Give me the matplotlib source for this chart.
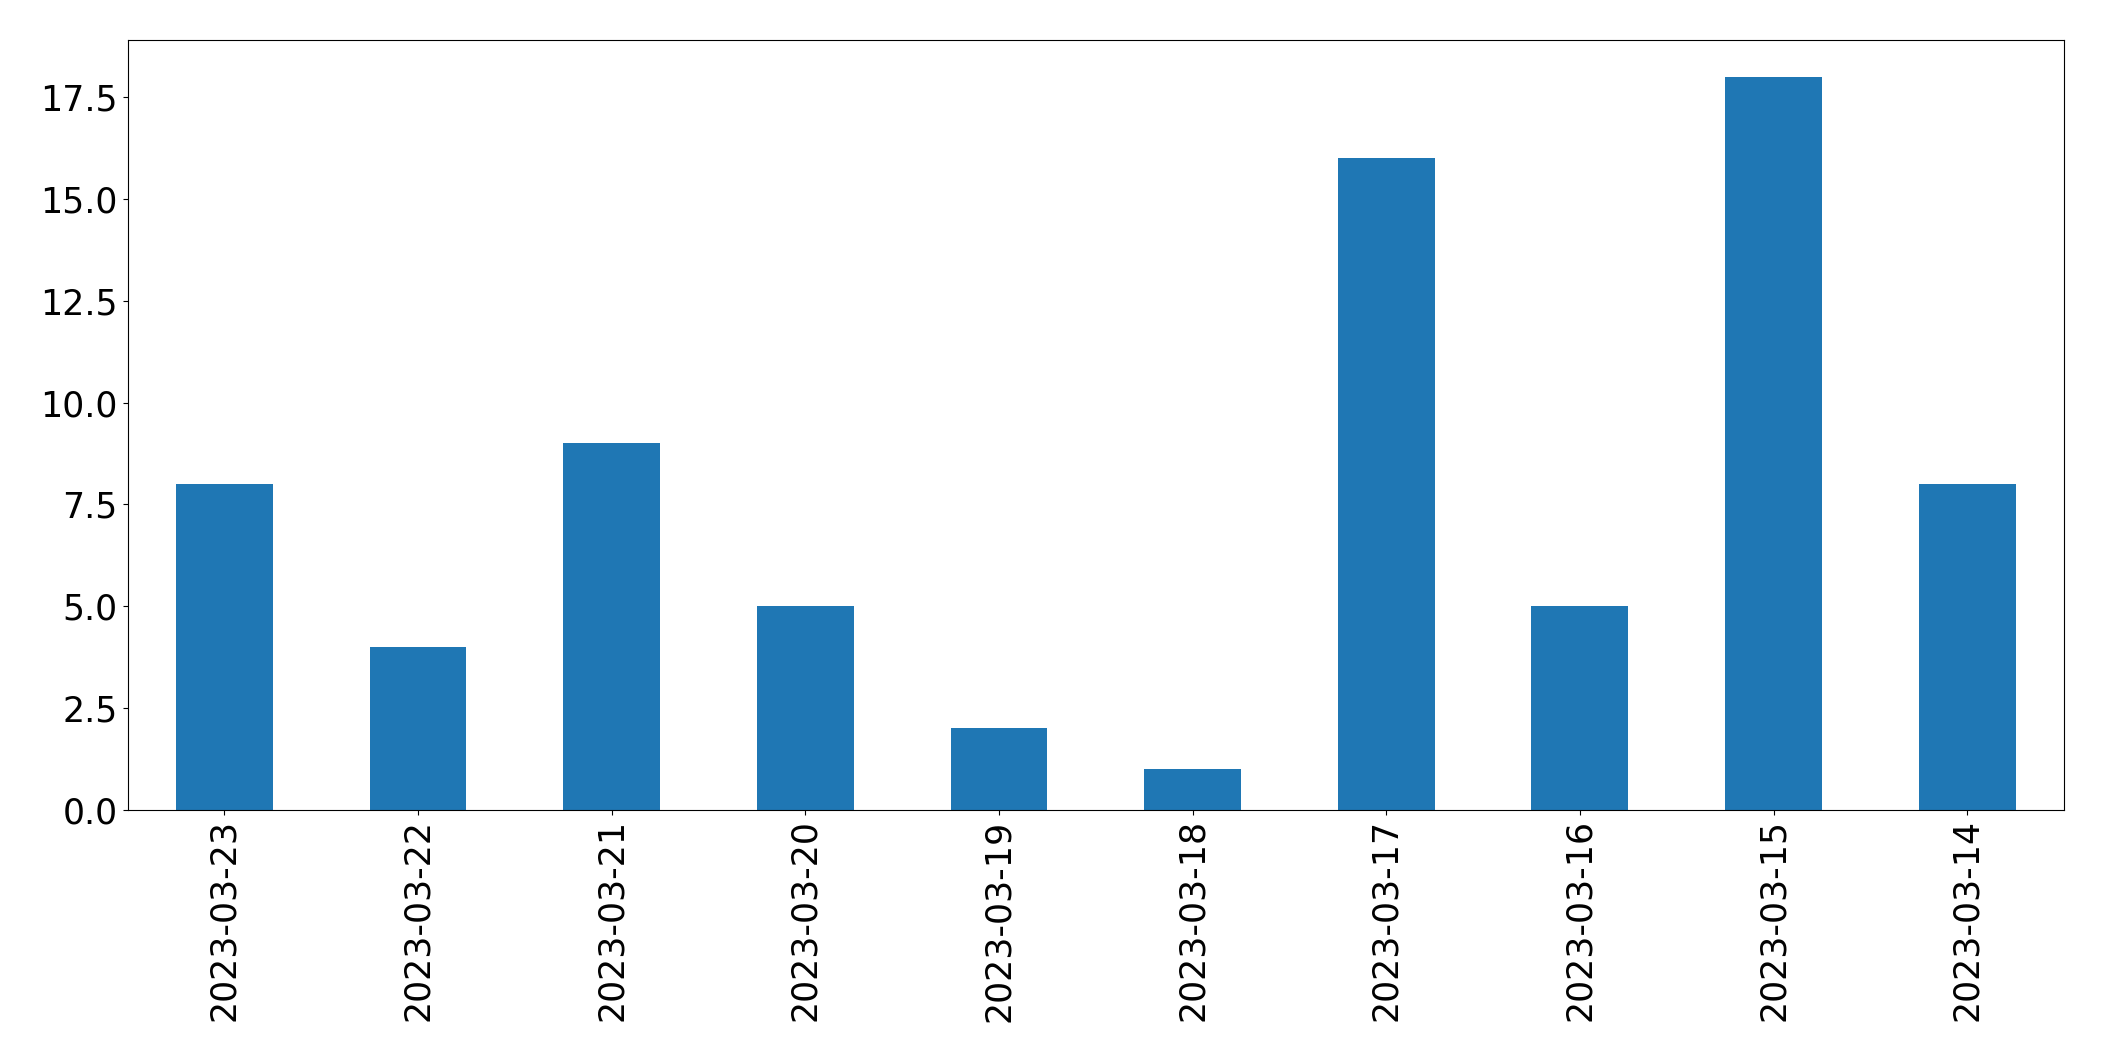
import matplotlib
matplotlib.use("Agg")
import matplotlib.pyplot as plt
import pandas as pd

plt.rcParams.update({'font.size': 25})

dates = ['2023-03-23', '2023-03-22', '2023-03-21', '2023-03-20', '2023-03-19',
         '2023-03-18', '2023-03-17', '2023-03-16', '2023-03-15', '2023-03-14']
counts = [8, 4, 9, 5, 2, 1, 16, 5, 18, 8]

series = pd.Series(counts, index=dates)

fig, ax = plt.subplots(figsize=(21.04, 10.61), dpi=100)
series.plot(kind='bar', ax=ax, color='#1f77b4')
ax.tick_params(axis='both', labelsize=25)
fig.subplots_adjust(left=0.0606, right=0.981, top=0.962, bottom=0.237)
fig.savefig('out.png', dpi=100)
